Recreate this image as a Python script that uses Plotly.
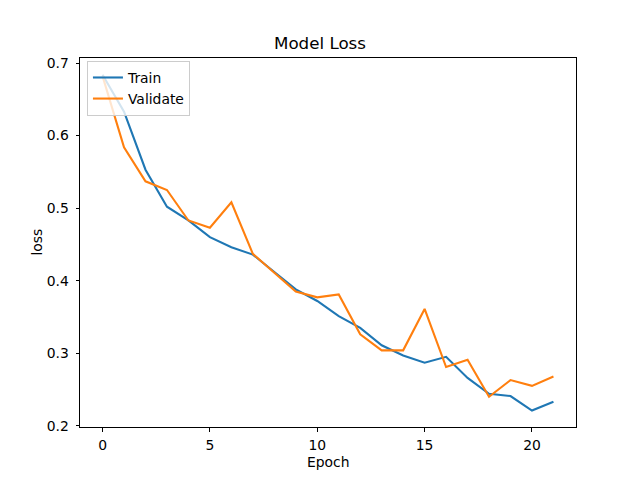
import plotly.graph_objects as go

epochs = list(range(22))
train_loss = [0.684, 0.633, 0.553, 0.502, 0.483, 0.460, 0.446, 0.436, 0.412, 0.388,
              0.372, 0.351, 0.335, 0.311, 0.297, 0.287, 0.295, 0.266, 0.244, 0.241,
              0.221, 0.233]
val_loss = [0.682, 0.584, 0.537, 0.525, 0.483, 0.473, 0.508, 0.437, 0.411, 0.385,
            0.377, 0.381, 0.326, 0.304, 0.304, 0.361, 0.281, 0.291, 0.240, 0.263,
            0.255, 0.268]
x_ticks = [0, 5, 10, 15, 20]
y_ticks = [0.2, 0.3, 0.4, 0.5, 0.6, 0.7]

font = "DejaVu Sans"
fig = go.Figure()
fig.add_trace(go.Scatter(x=epochs, y=train_loss, mode="lines", name="Train",
                         line=dict(color="#1f77b4", width=2.1)))
fig.add_trace(go.Scatter(x=epochs, y=val_loss, mode="lines", name="Validate",
                         line=dict(color="#ff7f0e", width=2.1)))

axis_common = dict(showgrid=False, zeroline=False, showline=True, linecolor="black",
                   linewidth=1, mirror=True, ticks="outside", ticklen=3.5,
                   tickcolor="black", tickwidth=1,
                   tickfont=dict(family=font, size=13.9, color="black"))
fig.update_xaxes(range=[-1.05, 22.05], tickvals=x_ticks,
                 ticktext=[str(v) for v in x_ticks], ticklabelstandoff=2, **axis_common)
fig.update_yaxes(range=[0.1983, 0.707], tickvals=y_ticks,
                 ticktext=[f"{v:.1f}" for v in y_ticks], ticklabelstandoff=4, **axis_common)

fig.update_layout(
    width=640, height=480,
    margin=dict(l=80, r=64, t=57.6, b=52.8, pad=0),
    paper_bgcolor="white", plot_bgcolor="white",
    font=dict(family=font, color="black"),
    title=dict(text="Model Loss", x=0.5, xanchor="center", y=(480 - 43) / 480,
               yanchor="middle", yref="container",
               font=dict(family=font, size=16.7, color="black")),
    showlegend=True,
    legend=dict(x=0.014, y=0.992, xanchor="left", yanchor="top",
                bgcolor="rgba(255,255,255,0.8)", bordercolor="#cccccc", borderwidth=1,
                font=dict(family=font, size=13.9, color="black"),
                tracegroupgap=0, itemwidth=30),
    annotations=[
        dict(text="Epoch", xref="paper", yref="paper", x=0.5, y=0, xanchor="center",
             yanchor="middle", yshift=-35, showarrow=False,
             font=dict(family=font, size=13.9, color="black")),
        dict(text="loss", xref="paper", yref="paper", x=0, y=0.5, xanchor="center",
             yanchor="middle", xshift=-44, textangle=-90, showarrow=False,
             font=dict(family=font, size=13.9, color="black")),
    ],
)

fig.write_html("out.html")
